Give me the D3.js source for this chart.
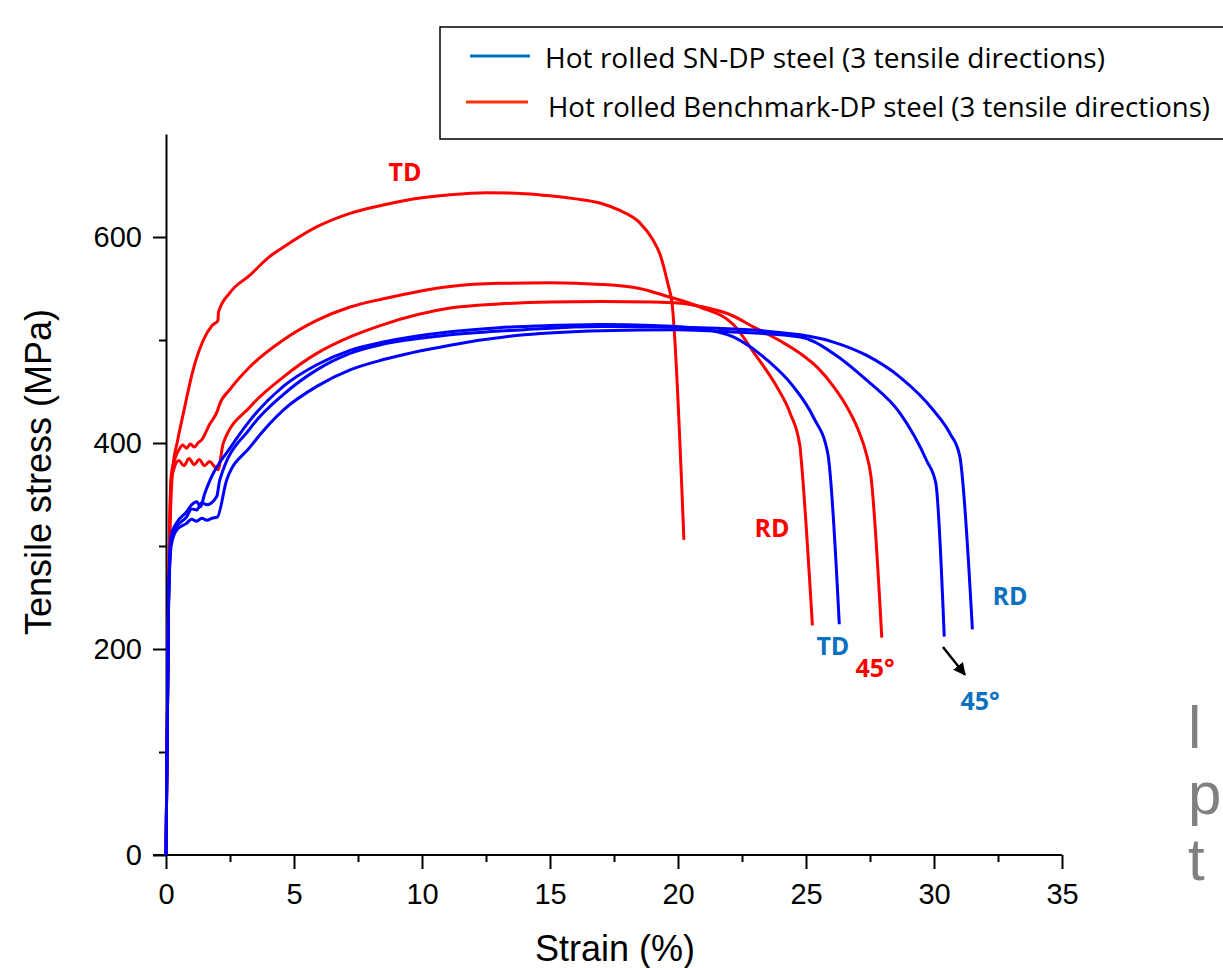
<!DOCTYPE html>
<html>
<head>
<meta charset="utf-8">
<script src="https://cdn.jsdelivr.net/npm/d3@7"></script>
<style>
  html, body { margin: 0; padding: 0; background: #fff; }
  svg { display: block; }
</style>
</head>
<body>
<svg id="chart" width="1223" height="968"></svg>
<script>
// strain (%) / stress (MPa) pairs
const benchTD = [[0,0],[0.1,250],[0.26,374],[0.45,402],[0.68,429],[1.07,472],[1.46,500],[1.8,514],[2.03,519],[2.05,527],[2.5,546],[3.28,563],[4.0,580],[4.58,590],[5.9,610],[7.19,623],[8.48,631],[10.0,638],[11.1,641],[12.5,643],[14.0,642],[15.0,640],[16.0,637],[16.95,633],[17.7,626],[18.5,614],[19.0,598],[19.3,583],[19.6,555],[19.77,535],[20.23,306]];
const benchRD = [[0,0],[0.1,250],[0.2,368],[0.35,385],[0.5,393],[0.65,398],[0.8,395],[0.95,399],[1.1,396],[1.25,400],[1.39,403],[1.7,418],[2.02,432],[2.07,436],[2.5,452],[3.28,474],[4.58,500],[5.89,519],[7.19,532],[8.49,540],[11.1,552],[13.0,555],[15.0,555.5],[17.0,554],[18.5,550],[19.5,543],[20.86,532],[22.16,515],[23.07,484],[23.85,455],[24.38,429],[24.77,396],[24.8,388],[25.25,223]];
const bench45 = [[0,0],[0.1,250],[0.2,362],[0.3,374],[0.5,383],[0.7,378],[0.9,385],[1.1,379],[1.3,384],[1.5,378],[1.7,382],[1.9,377],[2.03,374],[2.24,400],[3.28,435],[4.58,464],[5.89,487],[7.19,503],[8.49,515],[11.1,531],[13.0,535],[15.0,537],[17.0,537.5],[19.0,537],[20.0,536],[21.0,532],[22.0,525],[23.0,512],[24.0,499],[24.77,487],[25.5,472],[26.07,455],[26.6,435],[27.1,409],[27.35,390],[27.53,369],[27.96,211]];
const snTD = [[0,0],[0.1,250],[0.2,310],[0.4,322],[0.8,333],[1.0,340],[1.2,343],[1.35,338],[1.5,350],[1.72,364],[2.5,395],[3.28,422],[4.58,455],[5.89,476],[7.19,490],[8.49,498],[11.1,508],[13.0,512],[15.0,514],[17.0,515],[19.0,514],[20.86,511],[22.16,503],[23.46,481],[24.5,455],[25.29,425],[25.85,390],[26.3,224]];
const snRD = [[0,0],[0.1,245],[0.2,305],[0.4,318],[0.8,328],[1.0,336],[1.2,335],[1.4,342],[1.6,340],[1.98,348],[2.1,364],[3.28,414],[4.58,447],[5.89,471],[7.19,487],[8.49,496],[11.1,505],[14.0,510],[17.0,513],[20.86,512],[24.77,505],[26.07,498],[27.37,485],[28.67,464],[29.97,432],[30.63,409],[31.0,388],[31.5,219]];
const sn45 = [[0,0],[0.1,240],[0.2,300],[0.4,315],[0.8,322],[1.0,326],[1.2,324],[1.4,327],[1.6,325],[1.8,327],[2.0,328],[2.37,364],[3.28,396],[4.58,432],[5.89,455],[7.19,471],[8.49,481],[11.1,495],[14.0,505],[17.0,509],[20.0,510],[22.0,508],[24.77,503],[26.07,487],[27.37,461],[28.67,429],[29.71,383],[30.07,361],[30.4,212]];

const curves = [
  {name: "benchTD", pts: benchTD, color: "#ff0000"},
  {name: "benchRD", pts: benchRD, color: "#ff0000"},
  {name: "bench45", pts: bench45, color: "#ff0000"},
  {name: "snTD", pts: snTD, color: "#0000ff"},
  {name: "snRD", pts: snRD, color: "#0000ff"},
  {name: "sn45", pts: sn45, color: "#0000ff"}
];

const xTicks = [0, 5, 10, 15, 20, 25, 30, 35];
const xMinor = [2.5, 7.5, 12.5, 17.5, 22.5, 27.5, 32.5];
const yTicks = [0, 200, 400, 600];
const yMinor = [100, 300, 500];

const legendItems = ["Hot rolled SN-DP steel (3 tensile directions)", "Hot rolled Benchmark-DP steel (3 tensile directions)"];
const legendColors = ["#0070c0", "#ff3300"];

// direction labels: [strain, stress, text, colour]
const labels = [
  [9.34, 654, "TD", "#ff0000"],
  [23.67, 309, "RD", "#ff0000"],
  [26.05, 194, "TD", "#0a70c0"],
  [27.7, 173, "45°", "#ff0000"],
  [32.97, 243, "RD", "#0a70c0"],
  [31.8, 141, "45°", "#0a70c0"]
];
const arrow = [[30.35, 202], [31.21, 175]];

const svg = d3.select("#chart");

const x = d3.scaleLinear().domain([0, 35]).range([166, 1062]);
const y = d3.scaleLinear().domain([0, 700]).range([855, 134]);

// axes
const xAxis = svg.append("g")
  .attr("transform", `translate(0,${y(0)})`)
  .call(d3.axisBottom(x).tickValues(xTicks).tickSize(14).tickSizeOuter(0).tickPadding(14));
xAxis.select(".domain").attr("d", `M153,0H${x(35)}`);

const xMin = svg.append("g")
  .attr("transform", `translate(0,${y(0)})`)
  .call(d3.axisBottom(x).tickValues(xMinor).tickSize(7).tickFormat(""));
xMin.select(".domain").remove();

const yAxis = svg.append("g")
  .attr("transform", `translate(${x(0)},0)`)
  .call(d3.axisLeft(y).tickValues(yTicks).tickSize(13).tickSizeOuter(0).tickPadding(11));

const yMin = svg.append("g")
  .attr("transform", `translate(${x(0)},0)`)
  .call(d3.axisLeft(y).tickValues(yMinor).tickSize(7).tickFormat(""));
yMin.select(".domain").remove();

svg.selectAll(".domain, .tick line")
  .attr("stroke", "#000")
  .attr("stroke-width", 2);

svg.selectAll(".tick text")
  .attr("font-family", "'Liberation Sans', Arial, sans-serif")
  .attr("font-size", 29)
  .attr("fill", "#000");

// axis titles
svg.append("text")
  .attr("x", 615)
  .attr("y", 961)
  .attr("text-anchor", "middle")
  .attr("font-family", "'Liberation Sans', Arial, sans-serif")
  .attr("font-size", 36)
  .text("Strain (%)");

svg.append("text")
  .attr("transform", "translate(51,472) rotate(-90)")
  .attr("text-anchor", "middle")
  .attr("font-family", "'Liberation Sans', Arial, sans-serif")
  .attr("font-size", 36)
  .text("Tensile stress (MPa)");

// curves
const line = d3.line()
  .x(d => x(d[0]))
  .y(d => y(d[1]))
  .curve(d3.curveMonotoneX);

svg.append("g")
  .selectAll("path")
  .data(curves)
  .enter().append("path")
  .attr("d", d => line(d.pts))
  .attr("fill", "none")
  .attr("stroke", d => d.color)
  .attr("stroke-width", 3)
  .attr("stroke-linejoin", "round");

// direction labels
svg.append("g")
  .selectAll("text")
  .data(labels)
  .enter().append("text")
  .attr("x", d => x(d[0]))
  .attr("y", d => y(d[1]))
  .attr("text-anchor", "middle")
  .attr("font-family", "'Open Sans', sans-serif")
  .attr("font-weight", "bold")
  .attr("font-size", 25)
  .attr("fill", d => d[3])
  .text(d => d[2]);

// arrow
svg.append("defs").append("marker")
  .attr("id", "head")
  .attr("viewBox", "0 0 10 10")
  .attr("refX", 9).attr("refY", 5)
  .attr("markerWidth", 5).attr("markerHeight", 5)
  .attr("orient", "auto")
  .append("path")
  .attr("d", "M0,0L10,5L0,10Z")
  .attr("fill", "#000");

svg.append("line")
  .attr("x1", x(arrow[0][0])).attr("y1", y(arrow[0][1]))
  .attr("x2", x(arrow[1][0])).attr("y2", y(arrow[1][1]))
  .attr("stroke", "#000")
  .attr("stroke-width", 2.5)
  .attr("marker-end", "url(#head)");

// legend
const legend = svg.append("g");
legend.append("rect")
  .attr("x", 440).attr("y", 27)
  .attr("width", 790).attr("height", 112)
  .attr("fill", "#fff")
  .attr("stroke", "#000")
  .attr("stroke-width", 1.5);

const legendRow = legend.selectAll("g.row")
  .data(legendItems)
  .enter().append("g")
  .attr("class", "row")
  .attr("transform", (d, i) => `translate(0,${56 + i * 46})`);

legendRow.append("line")
  .attr("x1", (d, i) => 470 - i * 4).attr("x2", (d, i) => 530 - i * 2)
  .attr("stroke", (d, i) => legendColors[i])
  .attr("stroke-width", 3);

legendRow.append("text")
  .attr("x", (d, i) => 545 + i * 3)
  .attr("y", (d, i) => 12 + i * 3)
  .attr("font-family", "'Open Sans', sans-serif")
  .attr("font-size", 27)
  .attr("textLength", (d, i) => i === 0 ? 560 : 662)
  .attr("lengthAdjust", "spacingAndGlyphs")
  .attr("fill", "#000")
  .text(d => d);

// clipped slide text at the right edge
const sideText = ["l", "p", "t"];
svg.append("g")
  .selectAll("text")
  .data(sideText)
  .enter().append("text")
  .attr("x", 1188)
  .attr("y", (d, i) => 748 + i * 66)
  .attr("font-family", "'Liberation Sans', Arial, sans-serif")
  .attr("font-size", 60)
  .attr("fill", "#808080")
  .text(d => d);
</script>
</body>
</html>
